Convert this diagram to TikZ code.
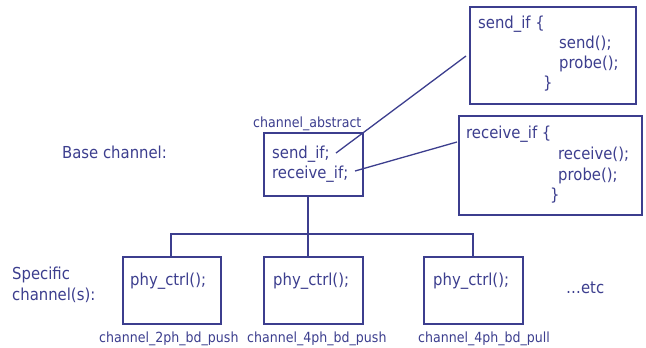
\documentclass[tikz,border=0pt]{standalone}
\usepackage{fontspec}
\setmainfont{DejaVu Sans}[FakeStretch=0.9]
\definecolor{ink}{RGB}{60,62,142}
\begin{document}
\begin{tikzpicture}[x=1pt,y=-1pt,
  box/.style={draw=ink,line width=1.3pt,inner sep=0pt,rectangle},
  big/.style={text=ink,inner sep=0pt,anchor=base west,font=\fontsize{16.5}{19}\selectfont},
  small/.style={text=ink,inner sep=0pt,anchor=base west,font=\fontsize{14}{16}\selectfont},
  conn/.style={draw=ink,line width=1.3pt}]
\useasboundingbox (0,0) rectangle (646,348);
% boxes
\node[box,minimum width=99pt,minimum height=63pt] (abs) at (313.5,164.5) {};
\node[box,minimum width=166pt,minimum height=97pt] (sendbox) at (553,55.5) {};
\node[box,minimum width=183pt,minimum height=99pt] (recvbox) at (550.5,165.5) {};
\node[box,minimum width=98pt,minimum height=67pt] (b1) at (172,290.5) {};
\node[box,minimum width=99pt,minimum height=67pt] (b2) at (313.5,290.5) {};
\node[box,minimum width=99pt,minimum height=67pt] (b3) at (473.5,290.5) {};
% texts
\node[small] (labs) at (253,127) {channel\_abstract};
\node[big] (tsend) at (272,158) {send\_if;};
\node[big] (trecv) at (272,178) {receive\_if;};
\node[big] (base) at (62,158) {Base channel:};
\node[big] (spec1) at (12,279) {Specific};
\node[big] (spec2) at (12,300) {channel(s):};
\node[big] (etc) at (566,293) {\ldots etc};
\node[big] (s1) at (478,28) {send\_if \{};
\node[big] (s2) at (559,48) {send();};
\node[big] (s3) at (559,68) {probe();};
\node[big] (s4) at (543,88) {\}};
\node[big] (r1) at (466,138) {receive\_if \{};
\node[big] (r2) at (558,159) {receive();};
\node[big] (r3) at (558,180) {probe();};
\node[big] (r4) at (550,200) {\}};
\node[big] (p1) at (130,285) {phy\_ctrl();};
\node[big] (p2) at (273,285) {phy\_ctrl();};
\node[big] (p3) at (433,285) {phy\_ctrl();};
\node[small] (l1) at (99,342) {channel\_2ph\_bd\_push};
\node[small] (l2) at (247,342) {channel\_4ph\_bd\_push};
\node[small] (l3) at (418,342) {channel\_4ph\_bd\_pull};
% connector coordinates
\coordinate (sendfrom) at (336,153);
\coordinate (sendto) at (466,56);
\coordinate (recvfrom) at (355,171);
\coordinate (recvto) at (457,142);
\coordinate (absout) at (308,196);
\coordinate (b2in) at (308,257);
\coordinate (b1in) at (171,257);
\coordinate (b3in) at (473,257);
\coordinate (busl) at (171,234);
\coordinate (busr) at (473,234);
% connectors
\draw[conn] (sendfrom) -- (sendto);
\draw[conn] (recvfrom) -- (recvto);
\draw[conn] (absout) -- (b2in);
\draw[conn] (b1in) -- (busl) -- (busr) -- (b3in);
\end{tikzpicture}
\end{document}
